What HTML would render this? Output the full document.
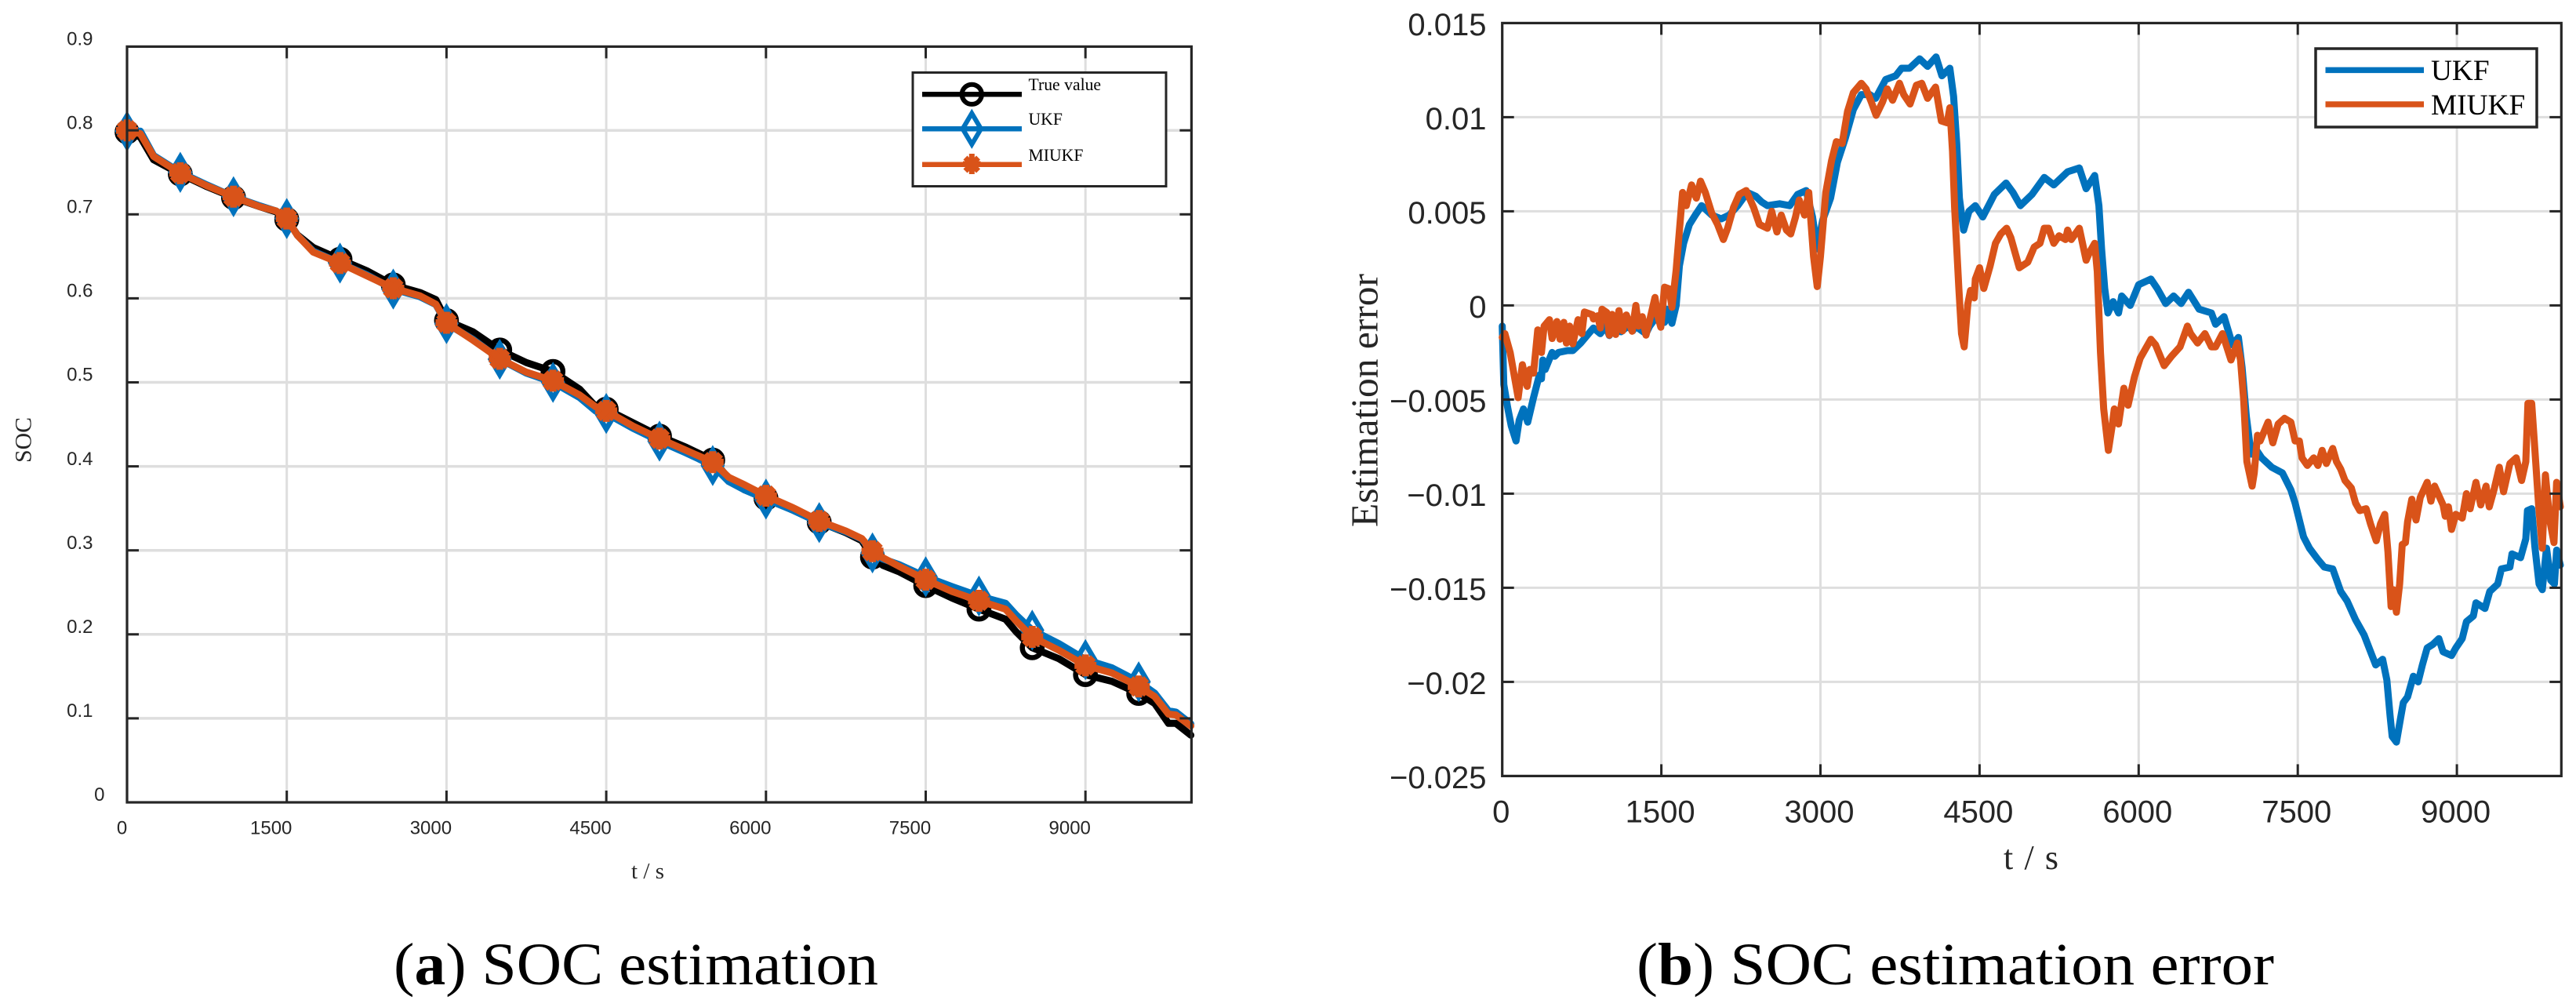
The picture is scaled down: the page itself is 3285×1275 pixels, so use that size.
<!DOCTYPE html>
<html lang="en">
<head>
<meta charset="utf-8">
<title>SOC estimation and estimation error</title>
<style>
html,body{margin:0;padding:0;background:#fff}
svg{display:block}
.sans{font-family:"Liberation Sans",sans-serif;fill:#262626}
.serif{font-family:"Liberation Serif",serif;fill:#262626}
.cap{font-family:"Liberation Serif",serif;fill:#000;font-size:76px}
</style>
</head>
<body>
<svg id="fig" xmlns="http://www.w3.org/2000/svg" width="3285" height="1275" viewBox="0 0 3285 1275">
  <rect width="3285" height="1275" fill="#fff"/>
  <g id="chartA">
    <g id="gridA"></g>
    <g id="seriesA"></g>
    <g id="axesA"></g>
    <text class="serif" font-size="30" text-anchor="middle" textLength="58" lengthAdjust="spacingAndGlyphs" transform="translate(39.5 561) rotate(-90)">SOC</text>
    <text class="serif" font-size="29" text-anchor="middle" textLength="42" lengthAdjust="spacing" x="826" y="1120">t / s</text>
    <g>
      <rect x="1164" y="92.5" width="323" height="145" fill="#fff" stroke="#262626" stroke-width="3"/>
      <g>
        <line x1="1176" x2="1303" y1="120.3" y2="120.3" stroke="#000" stroke-width="6.5"/>
        <circle cx="1239.3" cy="120.3" r="12.6" fill="none" stroke="#000" stroke-width="6"/>
        <text x="1311.5" y="115" font-family="Liberation Serif, serif" font-size="21.7" fill="#000">True value</text>
      </g>
      <g>
        <line x1="1176" x2="1303" y1="164.3" y2="164.3" stroke="#0072BD" stroke-width="6.5"/>
        <polygon points="1239.3,144.5 1251,164.3 1239.3,184 1227.6,164.3" fill="none" stroke="#0072BD" stroke-width="6"/>
        <text x="1311.5" y="159" font-family="Liberation Serif, serif" font-size="21.7" fill="#000">UKF</text>
      </g>
      <g>
        <line x1="1176" x2="1303" y1="209.7" y2="209.7" stroke="#D95319" stroke-width="6.5"/>
        <g stroke="#D95319" stroke-width="7">
          <line x1="1239.3" x2="1239.3" y1="196" y2="222"/>
          <line x1="1228" x2="1250.5" y1="209" y2="209"/>
          <line x1="1231" x2="1247.5" y1="201" y2="218"/>
          <line x1="1231" x2="1247.5" y1="218" y2="201"/>
        </g>
        <text x="1311.5" y="205" font-family="Liberation Serif, serif" font-size="21.7" fill="#000">MIUKF</text>
      </g>
    </g>
  </g>
  <g id="chartB">
    <g id="gridB"></g>
    <g id="seriesB"></g>
    <g id="axesB"></g>
    <text class="serif" font-size="49" text-anchor="middle" textLength="323" lengthAdjust="spacingAndGlyphs" transform="translate(1756.5 510.5) rotate(-90)">Estimation error</text>
    <text class="serif" font-size="44" text-anchor="middle" textLength="70" lengthAdjust="spacing" x="2590" y="1108">t / s</text>
    <g>
      <rect x="2953" y="62" width="282" height="100" fill="#fff" stroke="#262626" stroke-width="3.5"/>
      <g>
        <line x1="2965.5" x2="3091" y1="89.4" y2="89.4" stroke="#0072BD" stroke-width="7.5"/>
        <text x="3100" y="102" font-family="Liberation Serif, serif" font-size="37.3" fill="#000">UKF</text>
      </g>
      <g>
        <line x1="2965.5" x2="3091" y1="133" y2="133" stroke="#D95319" stroke-width="7.5"/>
        <text x="3100" y="146" font-family="Liberation Serif, serif" font-size="37.3" fill="#000">MIUKF</text>
      </g>
    </g>
  </g>
  <text class="cap" x="502" y="1255" textLength="618" lengthAdjust="spacingAndGlyphs">(<tspan font-weight="bold">a</tspan>) SOC estimation</text>
  <text class="cap" x="2087" y="1255" textLength="813" lengthAdjust="spacingAndGlyphs">(<tspan font-weight="bold">b</tspan>) SOC estimation error</text>
</svg>
<script>
const socXTicks = [0, 1500, 3000, 4500, 6000, 7500, 9000];
const socYTicks = [0, 0.1, 0.2, 0.3, 0.4, 0.5, 0.6, 0.7, 0.8, 0.9];
const socYLabels = ['0', '0.1', '0.2', '0.3', '0.4', '0.5', '0.6', '0.7', '0.8', '0.9'];
const errXTicks = [0, 1500, 3000, 4500, 6000, 7500, 9000];
const errYTicks = [0.015, 0.01, 0.005, 0, -0.005, -0.01, -0.015, -0.02, -0.025];
const errYLabels = ['0.015', '0.01', '0.005', '0', '\u22120.005', '\u22120.01', '\u22120.015', '\u22120.02', '\u22120.025'];

const socTimes = [0,125,250,500,750,1000,1250,1400,1500,1600,1750,2000,2250,2500,2750,2900,3000,3250,3500,3750,4000,4250,4400,4500,4750,5000,5250,5500,5650,5800,6000,6250,6500,6750,6900,7000,7100,7250,7500,7750,8000,8250,8350,8500,8750,9000,9250,9500,9650,9780,9850,9990];
const socTrue = [.798,.792,.765,.748,.733,.720,.709,.703,.694,.6755,.6605,.6465,.633,.616,.607,.5985,.5736,.560,.5385,.5235,.513,.492,.4714,.468,.452,.436,.4227,.4075,.386,.372,.362,.348,.3335,.321,.3115,.292,.282,.2745,.258,.243,.230,.218,.203,.184,.171,.152,.144,.1296,.1177,.094,.094,.080];
const socUkf = [.799,.799,.770,.750,.735,.721,.710,.704,.695,.675,.656,.642,.628,.611,.602,.5925,.570,.551,.5275,.511,.500,.482,.466,.463,.4455,.430,.416,.401,.382,.372,.361,.348,.333,.322,.3134,.297,.2896,.283,.2685,.2567,.2456,.237,.223,.205,.189,.170,.160,.1435,.130,.109,.1075,.0935];
const socMiukf = [.800,.796,.769,.749,.734,.721,.709,.704,.695,.675,.655,.642,.627,.612,.603,.593,.571,.550,.528,.512,.502,.485,.471,.466,.448,.433,.419,.405,.387,.378,.365,.351,.335,.323,.314,.299,.291,.281,.265,.251,.240,.230,.216,.197,.181,.163,.154,.138,.126,.105,.104,.091];
const socMarkerTimes = [0,500,1000,1500,2000,2500,3000,3500,4000,4500,5000,5500,6000,6500,7000,7500,8000,8500,9000,9500];

const ukfTimes = [0,15,50,85,130,160,200,240,295,350,370,382,405,470,495,530,615,665,740,815,860,925,975,1010,1060,1120,1185,1230,1255,1355,1390,1430,1455,1530,1550,1600,1640,1670,1710,1765,1820,1880,1975,2065,2140,2220,2310,2390,2445,2500,2615,2710,2785,2865,2925,2970,3020,3095,3160,3235,3310,3385,3465,3520,3615,3710,3765,3840,3935,4010,4090,4145,4220,4255,4285,4310,4350,4400,4460,4530,4640,4750,4815,4885,4995,5110,5200,5330,5440,5505,5585,5625,5650,5680,5710,5760,5810,5840,5920,6000,6115,6175,6255,6330,6400,6470,6570,6685,6725,6805,6885,6940,6975,7015,7060,7100,7160,7255,7355,7435,7475,7515,7555,7610,7690,7750,7830,7905,7965,8045,8125,8200,8235,8300,8340,8370,8390,8430,8470,8495,8535,8590,8635,8675,8720,8775,8830,8870,8950,8990,9050,9090,9155,9180,9265,9310,9385,9420,9500,9520,9600,9650,9665,9705,9735,9775,9805,9845,9885,9920,9940,9975];
const ukfErr = [-1.1,-4.2,-5.4,-6.4,-7.2,-6.1,-5.5,-6.2,-4.9,-3.7,-3.9,-2.9,-3.4,-2.5,-2.7,-2.5,-2.4,-2.4,-2.0,-1.5,-1.2,-1.5,-1.1,-1.6,-1.1,-1.4,-1.1,-1.35,-1.1,-1.5,-1.1,-0.8,-0.65,-0.9,-0.2,-0.95,0,2.1,3.3,4.3,4.8,5.3,4.8,4.6,4.8,5.3,6.0,5.8,5.5,5.3,5.4,5.3,5.9,6.1,4.7,3.0,4.5,5.7,7.6,8.9,10.4,11.2,11.2,11.0,12.0,12.2,12.6,12.6,13.1,12.7,13.2,12.2,12.6,11.1,8.6,5.7,4.0,5.0,5.3,4.7,5.9,6.5,6.0,5.3,5.9,6.8,6.4,7.1,7.3,6.2,6.9,5.3,3.0,0.9,-0.4,0.2,-0.4,0.5,0,1.1,1.4,0.9,0.1,0.5,0.1,0.7,-0.2,-0.4,-1.0,-0.6,-2.1,-1.7,-3.3,-5.9,-7.9,-7.6,-8.1,-8.6,-8.9,-9.8,-10.5,-11.4,-12.3,-12.9,-13.5,-13.9,-14.0,-15.2,-15.7,-16.7,-17.5,-18.6,-19.1,-18.8,-19.9,-21.8,-22.9,-23.2,-21.9,-21.1,-20.8,-19.7,-20.0,-19.1,-18.2,-18.0,-17.7,-18.4,-18.6,-18.2,-17.7,-16.8,-16.5,-15.8,-16.1,-15.2,-14.8,-14.0,-13.9,-13.2,-13.4,-12.4,-10.9,-10.8,-12.8,-14.8,-15.1,-12.9,-14.6,-14.8,-13.0,-13.8];

const miukfTimes = [0,25,75,150,190,235,260,295,335,370,395,445,470,515,545,580,605,635,665,715,750,775,850,860,900,925,940,985,1010,1035,1070,1100,1135,1170,1225,1260,1285,1320,1355,1390,1440,1465,1495,1530,1575,1600,1640,1650,1700,1735,1785,1830,1870,1915,1975,2030,2085,2125,2180,2235,2300,2370,2425,2500,2540,2590,2630,2680,2720,2765,2800,2850,2890,2935,2970,3000,3050,3105,3150,3205,3255,3310,3385,3430,3480,3525,3585,3630,3680,3745,3785,3845,3905,3955,4010,4085,4140,4195,4220,4245,4265,4305,4330,4355,4390,4415,4450,4460,4500,4540,4600,4650,4700,4755,4795,4875,4955,5015,5070,5110,5150,5200,5250,5310,5330,5365,5440,5505,5535,5585,5610,5640,5670,5715,5750,5770,5810,5860,5900,5960,6015,6115,6160,6240,6310,6390,6460,6490,6555,6625,6685,6725,6790,6870,6930,6960,6990,7020,7070,7090,7120,7145,7220,7265,7315,7375,7435,7475,7515,7540,7590,7650,7690,7730,7770,7830,7865,7905,7945,8005,8045,8085,8145,8185,8240,8280,8320,8350,8380,8400,8430,8460,8485,8515,8535,8575,8615,8655,8720,8755,8790,8870,8890,8920,8950,8990,9050,9090,9125,9180,9225,9275,9305,9350,9400,9440,9500,9560,9610,9650,9670,9705,9730,9770,9805,9835,9875,9915,9940,9975];
const miukfErr = [-1.7,-1.5,-2.5,-4.9,-3.15,-4.3,-3.4,-3.6,-1.3,-2.5,-1.1,-0.76,-1.76,-0.86,-1.79,-0.9,-2.0,-1.1,-2.04,-0.76,-1.5,-0.35,-0.5,-0.72,-0.55,-1.2,-0.2,-0.37,-1.58,-0.48,-1.54,-0.28,-1.35,-0.51,-1.37,0,-1.1,-0.6,-1.58,-0.79,0.42,-0.54,-1.16,0.97,0.88,-0.1,1.88,2.6,6.0,5.3,6.4,5.7,6.6,6.0,4.9,4.3,3.5,4.1,5.2,5.9,6.1,5.2,4.3,4.1,5.0,3.9,4.8,4.0,3.8,4.7,5.6,4.8,6.0,2.6,1.0,2.6,6.0,7.7,8.7,8.6,10.3,11.3,11.8,11.5,10.8,10.1,10.8,11.5,10.9,11.8,11.2,10.7,11.7,11.8,11.0,11.6,9.8,9.7,10.5,8.2,5.2,0.9,-1.5,-2.2,0.1,0.8,0.4,1.4,2.0,0.9,2.1,3.3,3.8,4.1,3.6,2.0,2.3,3.1,3.3,4.1,4.1,3.3,3.7,3.5,4.0,3.5,4.1,2.4,2.8,3.3,1.8,-2.5,-5.5,-7.7,-6.4,-5.5,-6.3,-4.4,-5.3,-3.8,-2.8,-1.8,-2.1,-3.2,-2.7,-2.2,-1.1,-1.5,-2.0,-1.5,-2.2,-2.2,-1.5,-2.9,-2.0,-2.9,-5.0,-8.3,-9.6,-8.9,-6.9,-7.2,-6.2,-7.3,-6.3,-6.0,-6.2,-7.2,-7.2,-8.1,-8.5,-8.1,-8.5,-7.7,-8.4,-7.6,-8.3,-8.7,-9.3,-9.7,-10.5,-10.9,-10.8,-11.6,-12.5,-11.6,-11.1,-13.1,-16.0,-15.1,-16.3,-14.8,-12.7,-12.6,-11.5,-10.3,-11.4,-10.2,-9.4,-10.4,-9.6,-10.6,-11.2,-10.7,-11.9,-11.1,-11.3,-10.0,-10.8,-9.4,-10.6,-9.6,-10.7,-9.8,-8.6,-9.9,-8.4,-8.1,-9.3,-8.3,-5.2,-5.2,-7.2,-10.6,-12.9,-9.0,-11.4,-12.6,-9.4,-10.7];
const errUnit = 0.001;

const SVGNS = 'http://www.w3.org/2000/svg';
function el(tag, parent) {
  const n = document.createElementNS(SVGNS, tag);
  parent.appendChild(n);
  return n;
}
function setAll(n, props) {
  for (const k in props) n.setAttribute(k, props[k]);
}
const GRID = '#dedede', INK = '#262626';

/* axis functions */
const sx = t => 162 + t * 203.7 / 1500;
const sy = v => 1023 - v * 1071;
const ex = t => 1915.7 + t * 202.9 / 1500;
const ey = v => 389.4 - v * 24000;
const A = {l: 162, r: 1519.4, t: 59.4, b: 1023};
const B = {l: 1915.7, r: 3266.3, t: 29.4, b: 989.4};

function interp(ts, vs, t) {
  for (let i = 1; i < ts.length; i++) {
    if (t <= ts[i]) {
      const f = (t - ts[i - 1]) / (ts[i] - ts[i - 1]);
      return vs[i - 1] + f * (vs[i] - vs[i - 1]);
    }
  }
  return vs[vs.length - 1];
}
function pathOf(ts, vs, fx, fy) {
  return ts.map((t, i) => (i ? 'L' : 'M') + fx(t).toFixed(1) + ' ' + fy(vs[i]).toFixed(1)).join('');
}

/* ---------- chart A ---------- */
const gridA = document.getElementById('gridA');
const axesA = document.getElementById('axesA');
const seriesA = document.getElementById('seriesA');
socXTicks.forEach((t, i) => {
  if (t > 0) {
    const g = el('line', gridA);
    
    
    setAll(g, {x1: sx(t), x2: sx(t), y1: A.t, y2: A.b, stroke: GRID, 'stroke-width': 3});
    const k1 = el('line', axesA);
    
    
    setAll(k1, {x1: sx(t), x2: sx(t), y1: A.t, y2: A.t + 15, stroke: INK, 'stroke-width': 3});
    const k2 = el('line', axesA);
    
    
    setAll(k2, {x1: sx(t), x2: sx(t), y1: A.b, y2: A.b - 15, stroke: INK, 'stroke-width': 3});
  }
  const lab = el('text', axesA);
  
  
  setAll(lab, {x: sx(t) - (t > 0 ? 20 : 6.4), y: 1063.5, class: 'sans', 'font-size': 24, 'text-anchor': 'middle'});
  lab.textContent = String(t);
});
socYTicks.forEach((v, i) => {
  if (v > 0 && v < 0.9) {
    const g = el('line', gridA);
    
    
    setAll(g, {x1: A.l, x2: A.r, y1: sy(v), y2: sy(v), stroke: GRID, 'stroke-width': 3.5});
    const k1 = el('line', axesA);
    
    
    setAll(k1, {x1: A.l, x2: A.l + 15, y1: sy(v), y2: sy(v), stroke: INK, 'stroke-width': 3});
    const k2 = el('line', axesA);
    
    
    setAll(k2, {x1: A.r, x2: A.r - 15, y1: sy(v), y2: sy(v), stroke: INK, 'stroke-width': 3});
  }
  const lab = el('text', axesA);
  
  
  setAll(lab, {x: v === 0 ? 133.5 : 118.5, y: sy(v) - 1.8, class: 'sans', 'font-size': 24, 'text-anchor': 'end'});
  lab.textContent = socYLabels[i];
});
const borderA = el('rect', axesA);


setAll(borderA, {x: A.l, y: A.t, width: A.r - A.l, height: A.b - A.t, fill: 'none', stroke: INK, 'stroke-width': 3.2});

const lineAttrs = w => ({fill: 'none', 'stroke-width': w, 'stroke-linejoin': 'round', 'stroke-linecap': 'round'});
const trueLine = el('path', seriesA);


setAll(trueLine, lineAttrs(9));
trueLine.setAttribute('stroke', '#000');
trueLine.setAttribute('d', pathOf(socTimes, socTrue, sx, sy));
socMarkerTimes.forEach(t => {
  const c = el('circle', seriesA);
  
  
  setAll(c, {cx: sx(t), cy: sy(interp(socTimes, socTrue, t)), r: 12.6, fill: 'none', stroke: '#000', 'stroke-width': 6.5});
});
const ukfLine = el('path', seriesA);


setAll(ukfLine, lineAttrs(9));
ukfLine.setAttribute('stroke', '#0072BD');
ukfLine.setAttribute('d', pathOf(socTimes, socUkf, sx, sy));
socMarkerTimes.forEach(t => {
  const X = sx(t), Y = sy(interp(socTimes, socUkf, t));
  const d = el('polygon', seriesA);
  
  
  setAll(d, {points: [X, Y - 19.8, X + 11.7, Y, X, Y + 19.8, X - 11.7, Y].join(' '), fill: 'none', stroke: '#0072BD', 'stroke-width': 6.5});
});
const miukfLine = el('path', seriesA);


setAll(miukfLine, lineAttrs(9));
miukfLine.setAttribute('stroke', '#D95319');
miukfLine.setAttribute('d', pathOf(socTimes, socMiukf, sx, sy));
socMarkerTimes.forEach(t => {
  const X = sx(t), Y = sy(interp(socTimes, socMiukf, t));
  const g = el('g', seriesA);
  
  
  setAll(g, {stroke: '#D95319', 'stroke-width': 9});
  [[0, -14, 0, 14], [-14, 0, 14, 0], [-10, -10, 10, 10], [-10, 10, 10, -10]].forEach(s => {
    const sp = el('line', g);
    setAll(sp, {x1: X + s[0], y1: Y + s[1], x2: X + s[2], y2: Y + s[3]});
  });
});

/* ---------- chart B ---------- */
const gridB = document.getElementById('gridB');
const axesB = document.getElementById('axesB');
const seriesB = document.getElementById('seriesB');
errXTicks.forEach(t => {
  if (t > 0) {
    const g = el('line', gridB);
    
    
    setAll(g, {x1: ex(t), x2: ex(t), y1: B.t, y2: B.b, stroke: GRID, 'stroke-width': 3});
    const k1 = el('line', axesB);
    
    
    setAll(k1, {x1: ex(t), x2: ex(t), y1: B.t, y2: B.t + 15, stroke: INK, 'stroke-width': 3});
    const k2 = el('line', axesB);
    
    
    setAll(k2, {x1: ex(t), x2: ex(t), y1: B.b, y2: B.b - 15, stroke: INK, 'stroke-width': 3});
  }
  const lab = el('text', axesB);
  
  
  setAll(lab, {x: ex(t) - 1.5, y: 1048.5, class: 'sans', 'font-size': 40, 'text-anchor': 'middle'});
  lab.textContent = String(t);
});
errYTicks.forEach((v, i) => {
  if (v < 0.015 && v > -0.025) {
    const g = el('line', gridB);
    
    
    setAll(g, {x1: B.l, x2: B.r, y1: ey(v), y2: ey(v), stroke: GRID, 'stroke-width': 3});
    const k1 = el('line', axesB);
    
    
    setAll(k1, {x1: B.l, x2: B.l + 15, y1: ey(v), y2: ey(v), stroke: INK, 'stroke-width': 3});
    const k2 = el('line', axesB);
    
    
    setAll(k2, {x1: B.r, x2: B.r - 15, y1: ey(v), y2: ey(v), stroke: INK, 'stroke-width': 3});
  }
  const lab = el('text', axesB);
  
  
  setAll(lab, {x: 1895.5, y: ey(v) + 15.5, class: 'sans', 'font-size': 40, 'text-anchor': 'end'});
  lab.textContent = errYLabels[i];
});
const borderB = el('rect', axesB);


setAll(borderB, {x: B.l, y: B.t, width: B.r - B.l, height: B.b - B.t, fill: 'none', stroke: INK, 'stroke-width': 3.2});

const ukfErrLine = el('path', seriesB);


setAll(ukfErrLine, lineAttrs(9));
ukfErrLine.setAttribute('stroke', '#0072BD');
ukfErrLine.setAttribute('d', pathOf(ukfTimes, ukfErr.map(e => e * errUnit), ex, ey));
const miukfErrLine = el('path', seriesB);


setAll(miukfErrLine, lineAttrs(9));
miukfErrLine.setAttribute('stroke', '#D95319');
miukfErrLine.setAttribute('d', pathOf(miukfTimes, miukfErr.map(e => e * errUnit), ex, ey));
</script>
</body>
</html>
